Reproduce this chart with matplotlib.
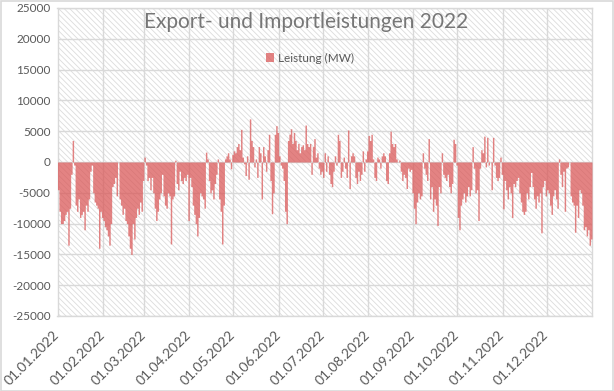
import numpy as np
import matplotlib
matplotlib.use("Agg")
import matplotlib.pyplot as plt
import matplotlib.dates as mdates
from matplotlib.patches import Rectangle

# ---- data (daily approximations, MW) ----
jan = [-4500, -8000, -10000, -10000, -9500, -8500, -8000, -13500, -7500, -2000,
       3500, -500, -7000, -8000, -6000, -9000, -8500, -8000, -11000, -7000,
       -8000, -6000, -1500, -500, -5000, -6500, -7000, -7500, -14000, -8000, -9000]
feb = [-9500, -10500, -11000, -12000, -13500, -10000, -4000, -3500, -2500, -5500,
       0, -6000, -7000, -8500, -7500, -9500, -10000, -12000, -14000, -15000,
       -10000, -12500, -9000, -7500, -8500, -6500, -8000, -3000]
mar = [800, -500, -3000, -2500, -4500, -2500, -5000, -7500, -9500, -8000,
       -6000, -5000, -2000, -5500, -7000, -7500, -5000, -5500, -13300, -6000,
       -5500, 300, -3500, -4500, -1500, -3000, -3500, -2500, -3000, -2000, -9500]
apr = [-2500, -4000, -7000, -8500, -10000, -12000, -9000, -5000, -5500, -6000,
       -7500, 1600, 500, -3000, -5000, -4500, -6000, -3500, -2000, 500,
       -6000, -8000, -13300, -7000, 500, 1000, 1500, 500, -1100, 1200]
may = [1800, 1500, 2500, 3000, 2000, 5300, 800, -300, -2200, 1000,
       -2800, 7000, 3500, 2500, -800, 500, -2500, 2500, 1500, -6000,
       2500, 1000, -1500, 2000, 4500, -3000, -8400, -5000, 4500, 5900, 4800]
jun = [1000, -500, -1000, -3000, -8000, -10000, 3500, 4500, 5400, 3000,
       4800, 3500, 2000, 3000, 1500, 2500, 2800, 2000, 6000, 3000,
       2500, 3000, -2000, 2500, 3800, 800, 1500, -1000, -2000, -1500]
jul = [-2500, 1500, -1500, 1000, -2000, -3500, -4000, -1500, 1000, -500,
       4500, 3500, -2500, -1500, 800, -1000, -2500, 5200, -4300, 1000,
       1500, 1000, -2500, -3500, -1500, -3000, -2000, 1800, -1500, 500, 1800]
aug = [4300, 3500, 4500, 500, -2500, -3000, 800, 500, -1000, 1000,
       1500, 1000, -3000, -3500, 1500, 5000, 3000, 2500, 3000, 500,
       0, 300, -1500, -3000, -2000, -2500, -4300, -1000, -1500, -1200, -5000]
sep = [-7500, -10000, -6500, -5000, -6000, -5500, 1500, -1000, -2000, -3000,
       3800, -6000, -4000, -8000, -6000, -7000, -10300, -4000, -5000, 1500,
       -2000, -2500, -3000, -2000, -4000, -5000, -3500, 3700, 3000, -500]
oct_ = [-9000, -11000, -7000, -6000, -5000, -6500, -5500, -4000, -5500, -4500,
        2500, -1000, -5000, -4500, -9500, -1000, 2000, 1500, 4200, -800,
        4000, -500, 0, -4500, 4000, -500, -2500, -3000, -2500, 800, -2000]
nov = [-7600, -3000, -4500, -6000, -4000, -5000, -9000, -3500, -4000, -3000,
       -2500, -5000, -6500, -8000, -8500, -8000, -5000, -6000, -4000, -1700,
       -4000, -6000, -7500, -5500, -6500, -5000, -11500, -4000, -3000, -5500]
dec = [-4500, -5000, -7000, -8500, -5500, -4500, -6000, -7500, 500, -2000,
       -4000, -1500, -8000, -1000, -800, 0, -5500, -6500, -7000, -11400,
       -7000, -9000, -4500, -5000, -7000, -11000, -10500, -12000, -11000, -13500, -12500]

month_labels = ["01.01.2022", "01.02.2022", "01.03.2022", "01.04.2022",
                "01.05.2022", "01.06.2022", "01.07.2022", "01.08.2022",
                "01.09.2022", "01.10.2022", "01.11.2022", "01.12.2022"]
y_ticks = [25000, 20000, 15000, 10000, 5000, 0, -5000, -10000, -15000, -20000, -25000]
title = "Export- und Importleistungen 2022"
series_name = "Leistung (MW)"

values = np.array(jan + feb + mar + apr + may + jun + jul + aug + sep + oct_ + nov + dec, dtype=float)
start = np.datetime64("2022-01-01")
dates = np.arange(start, start + len(values) + 1)  # day edges
xnum = mdates.date2num(dates)
yvals = np.append(values, values[-1])

# ---- figure ----
FONT = ["Lato", "DejaVu Sans"]
plt.rcParams["font.family"] = FONT
plt.rcParams["hatch.linewidth"] = 0.6

fig = plt.figure(figsize=(6.14, 3.91), dpi=100)
fig.patch.set_facecolor("white")
fig.patches.append(Rectangle((0.001, 0.001), 0.997, 0.996, transform=fig.transFigure,
                             fill=False, edgecolor="#d9d9d9", linewidth=1.2))

ax = fig.add_axes([57.5 / 614, 1 - 316 / 391, (592 - 57.5) / 614, (316 - 8) / 391])
ax.set_facecolor("white")
ax.add_patch(Rectangle((0, 0), 1, 1, transform=ax.transAxes, facecolor="white",
                       edgecolor="#dcdcdc", linewidth=0, hatch="\\" * 6, zorder=0))

grid_c = "#d9d9d9"
bar_color = (0.85, 0.33, 0.33)
ax.fill_between(xnum, 0, yvals, step="post", color=bar_color, alpha=0.72,
                linewidth=0, zorder=3)

ax.set_xlim(mdates.date2num(start), mdates.date2num(np.datetime64("2023-01-01")))
ax.set_ylim(-25000, 25000)

month_starts = np.array([np.datetime64(f"2022-{m:02d}-01") for m in range(1, 13)])
ax.set_xticks(mdates.date2num(month_starts))
ax.set_xticklabels(month_labels, rotation=45, ha="right", va="center",
                   rotation_mode="anchor", fontsize=10, color="#595959")
ax.set_yticks(y_ticks)
ax.set_yticklabels([str(v) for v in y_ticks], fontsize=8.5, color="#595959")
ax.tick_params(axis="both", length=0)
ax.tick_params(axis="x", pad=12)
ax.tick_params(axis="y", pad=5)

ax.grid(True, color=grid_c, linewidth=1.0, zorder=1)
ax.set_axisbelow(True)
for s in ax.spines.values():
    s.set_color(grid_c)
    s.set_linewidth(1.0)

fig.text(306.5 / 614, 1 - 22 / 391, title, ha="center", va="center",
         fontsize=15, color="#767676")

# legend entry
legend_handle = Rectangle((0, 0), 1, 1, facecolor=bar_color, alpha=0.72, linewidth=0)
ax0 = 57.5 / 614
aw = (592 - 57.5) / 614
ax.legend([legend_handle], [series_name], loc="center",
          bbox_to_anchor=((310 / 614 - ax0) / aw, 1 - (58 - 8) / 308), frameon=False,
          fontsize=8.5, handlelength=0.7, handleheight=0.7, handletextpad=0.3,
          labelcolor="#595959")

fig.savefig("out.png", dpi=100)
